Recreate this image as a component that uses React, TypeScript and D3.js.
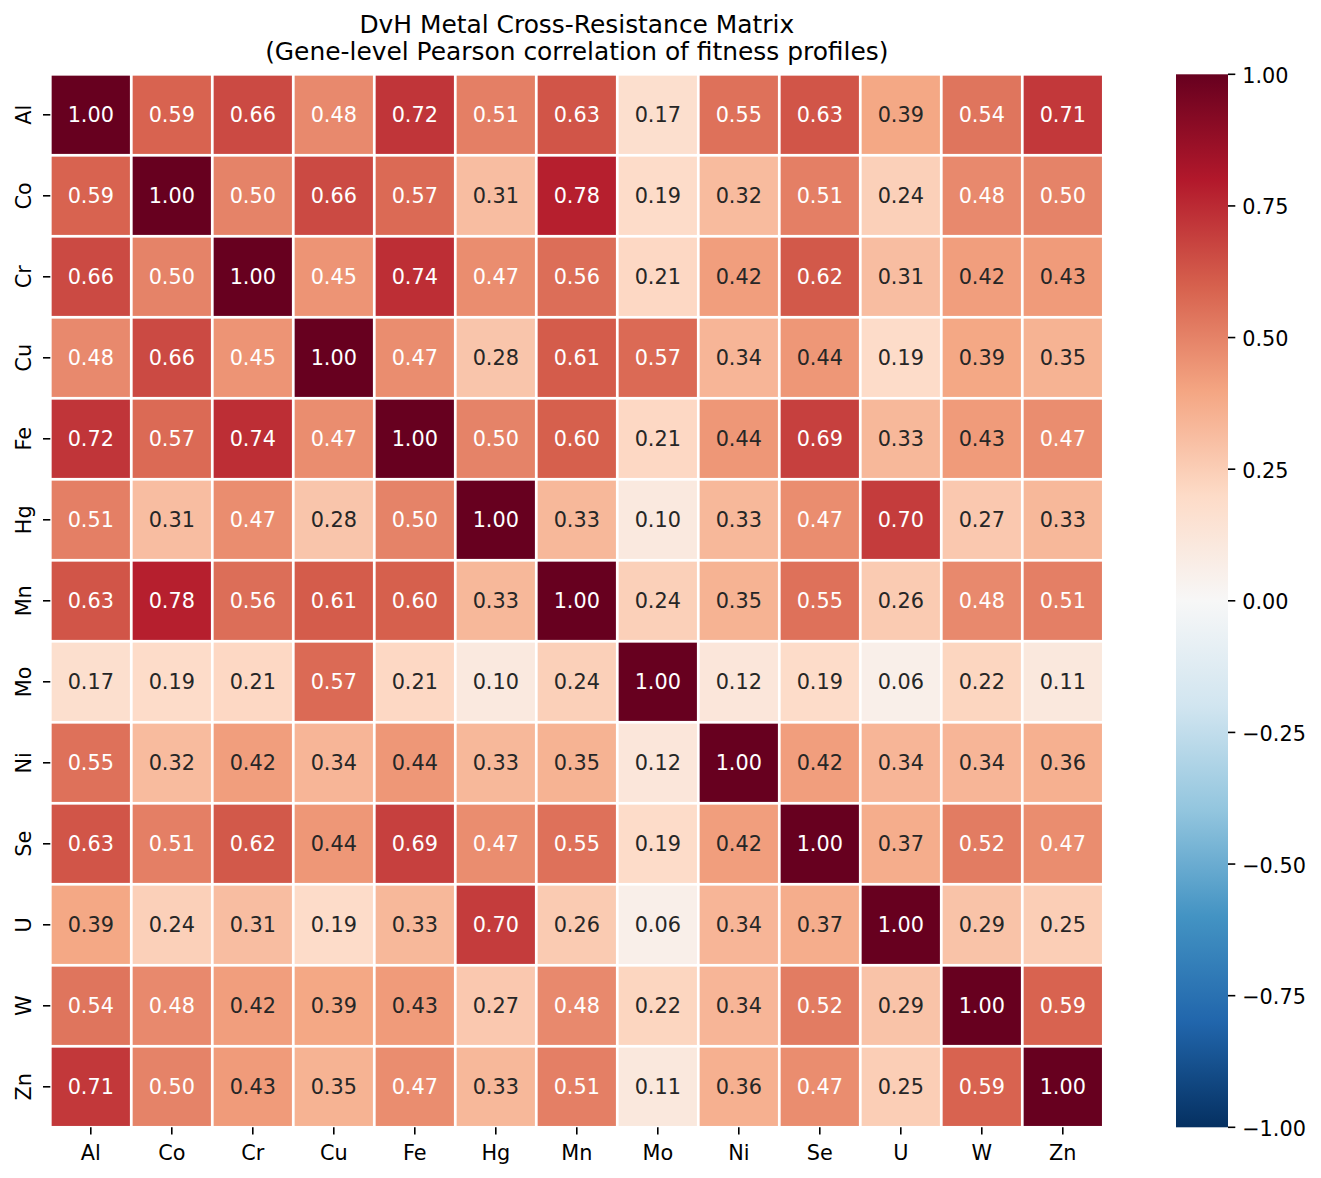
import { useEffect, useRef } from 'react';
import * as d3 from 'd3';

// metals (rows == columns)
const metals = ['Al', 'Co', 'Cr', 'Cu', 'Fe', 'Hg', 'Mn', 'Mo', 'Ni', 'Se', 'U', 'W', 'Zn'];

// correlation matrix, one row per metal
const rowAl = [1.0, 0.59, 0.66, 0.48, 0.72, 0.51, 0.63, 0.17, 0.55, 0.63, 0.39, 0.54, 0.71];
const rowCo = [0.59, 1.0, 0.5, 0.66, 0.57, 0.31, 0.78, 0.19, 0.32, 0.51, 0.24, 0.48, 0.5];
const rowCr = [0.66, 0.5, 1.0, 0.45, 0.74, 0.47, 0.56, 0.21, 0.42, 0.62, 0.31, 0.42, 0.43];
const rowCu = [0.48, 0.66, 0.45, 1.0, 0.47, 0.28, 0.61, 0.57, 0.34, 0.44, 0.19, 0.39, 0.35];
const rowFe = [0.72, 0.57, 0.74, 0.47, 1.0, 0.5, 0.6, 0.21, 0.44, 0.69, 0.33, 0.43, 0.47];
const rowHg = [0.51, 0.31, 0.47, 0.28, 0.5, 1.0, 0.33, 0.1, 0.33, 0.47, 0.7, 0.27, 0.33];
const rowMn = [0.63, 0.78, 0.56, 0.61, 0.6, 0.33, 1.0, 0.24, 0.35, 0.55, 0.26, 0.48, 0.51];
const rowMo = [0.17, 0.19, 0.21, 0.57, 0.21, 0.1, 0.24, 1.0, 0.12, 0.19, 0.06, 0.22, 0.11];
const rowNi = [0.55, 0.32, 0.42, 0.34, 0.44, 0.33, 0.35, 0.12, 1.0, 0.42, 0.34, 0.34, 0.36];
const rowSe = [0.63, 0.51, 0.62, 0.44, 0.69, 0.47, 0.55, 0.19, 0.42, 1.0, 0.37, 0.52, 0.47];
const rowU = [0.39, 0.24, 0.31, 0.19, 0.33, 0.7, 0.26, 0.06, 0.34, 0.37, 1.0, 0.29, 0.25];
const rowW = [0.54, 0.48, 0.42, 0.39, 0.43, 0.27, 0.48, 0.22, 0.34, 0.52, 0.29, 1.0, 0.59];
const rowZn = [0.71, 0.5, 0.43, 0.35, 0.47, 0.33, 0.51, 0.11, 0.36, 0.47, 0.25, 0.59, 1.0];
const matrix = [rowAl, rowCo, rowCr, rowCu, rowFe, rowHg, rowMn, rowMo, rowNi, rowSe, rowU, rowW, rowZn];

const colorbarTicks = [-1, -0.75, -0.5, -0.25, 0, 0.25, 0.5, 0.75, 1];

// matplotlib RdBu_r anchors (low -> high)
const rdbuR = ['#053061', '#2166ac', '#4393c3', '#92c5de', '#d1e5f0', '#f7f7f7',
  '#fddbc7', '#f4a582', '#d6604d', '#b2182b', '#67001f'];

const FONT = 'DejaVu Sans, sans-serif';
const FS = 20.8;

// seaborn picks annotation colour by relative luminance
function luminance(c: string) {
  const rgb = d3.rgb(c);
  const lin = [rgb.r, rgb.g, rgb.b].map((v) => {
    const s = v / 255;
    return s <= 0.03928 ? s / 12.92 : Math.pow((s + 0.055) / 1.055, 2.4);
  });
  return 0.2126 * lin[0] + 0.7152 * lin[1] + 0.0722 * lin[2];
}

export default function App() {
  const svgRef = useRef<SVGSVGElement | null>(null);

  useEffect(() => {
    if (!svgRef.current) return;
    const W = 1321, H = 1178;
    const hm = { x0: 50.3, y0: 74.3, x1: 1103.3, y1: 1127.3 };
    const cb = { x0: 1176, x1: 1228 };
    const tickLen = 7.3;

    const svg = d3.select(svgRef.current);
    svg.selectAll('*').remove();
    svg.attr('width', W).attr('height', H);

    const color = d3.scaleLinear<string>()
      .domain(d3.range(11).map((i) => -1 + i * 0.2))
      .range(rdbuR)
      .interpolate(d3.interpolateRgb)
      .clamp(true);

    const x = d3.scaleBand().domain(metals).range([hm.x0, hm.x1]);
    const y = d3.scaleBand().domain(metals).range([hm.y0, hm.y1]);

    const cells = matrix.flatMap((row, i) => row.map((v, j) => ({ r: metals[i], c: metals[j], v })));

    // cells
    svg.append('g')
      .selectAll('rect')
      .data(cells)
      .join('rect')
      .attr('x', (d) => x(d.c)!)
      .attr('y', (d) => y(d.r)!)
      .attr('width', x.bandwidth())
      .attr('height', y.bandwidth())
      .attr('fill', (d) => color(d.v))
      .attr('stroke', '#fff')
      .attr('stroke-width', 2.7);

    // annotations
    svg.append('g')
      .selectAll('text')
      .data(cells)
      .join('text')
      .attr('x', (d) => x(d.c)! + x.bandwidth() / 2)
      .attr('y', (d) => y(d.r)! + y.bandwidth() / 2 + 7.6)
      .attr('text-anchor', 'middle')
      .attr('font-family', FONT)
      .attr('font-size', FS)
      .attr('fill', (d) => (luminance(color(d.v)) > 0.408 ? '#262626' : '#ffffff'))
      .text((d) => d.v.toFixed(2));

    // x axis ticks
    const xt = svg.append('g');
    metals.forEach((m) => {
      const cx = x(m)! + x.bandwidth() / 2;
      xt.append('line').attr('x1', cx).attr('x2', cx)
        .attr('y1', hm.y1).attr('y2', hm.y1 + tickLen)
        .attr('stroke', '#000').attr('stroke-width', 1.6);
      xt.append('text').attr('x', cx).attr('y', 1159.5)
        .attr('text-anchor', 'middle')
        .attr('font-family', FONT).attr('font-size', FS)
        .text(m);
    });

    // y axis ticks (rotated labels)
    const yt = svg.append('g');
    metals.forEach((m) => {
      const cy = y(m)! + y.bandwidth() / 2;
      yt.append('line').attr('x1', hm.x0 - tickLen).attr('x2', hm.x0)
        .attr('y1', cy).attr('y2', cy)
        .attr('stroke', '#000').attr('stroke-width', 1.6);
      yt.append('text')
        .attr('transform', `translate(30.5,${cy}) rotate(-90)`)
        .attr('text-anchor', 'middle')
        .attr('font-family', FONT).attr('font-size', FS)
        .text(m);
    });

    // colorbar
    const cbScale = d3.scaleLinear().domain([-1, 1]).range([hm.y1, hm.y0]);
    const grad = svg.append('defs').append('linearGradient')
      .attr('id', 'cbgrad')
      .attr('x1', 0).attr('x2', 0).attr('y1', 1).attr('y2', 0);
    rdbuR.forEach((c, i) => {
      grad.append('stop').attr('offset', `${i * 10}%`).attr('stop-color', c);
    });
    svg.append('rect')
      .attr('x', cb.x0).attr('y', hm.y0)
      .attr('width', cb.x1 - cb.x0).attr('height', hm.y1 - hm.y0)
      .attr('fill', 'url(#cbgrad)');

    const cbAxis = svg.append('g');
    colorbarTicks.forEach((t) => {
      const ty = cbScale(t);
      cbAxis.append('line').attr('x1', cb.x1).attr('x2', cb.x1 + tickLen)
        .attr('y1', ty).attr('y2', ty)
        .attr('stroke', '#000').attr('stroke-width', 1.6);
      cbAxis.append('text').attr('x', cb.x1 + tickLen + 6.9).attr('y', ty + 8.5)
        .attr('font-family', FONT).attr('font-size', FS)
        .text(t.toFixed(2).replace('-', '\u2212'));
    });

    // title
    const tx = (hm.x0 + hm.x1) / 2;
    const title = svg.append('g')
      .attr('font-family', FONT).attr('font-size', 24.9).attr('text-anchor', 'middle');
    title.append('text').attr('x', tx).attr('y', 32.5).text('DvH Metal Cross-Resistance Matrix');
    title.append('text').attr('x', tx).attr('y', 59.5)
      .text('(Gene-level Pearson correlation of fitness profiles)');
  }, []);

  return (
    <svg ref={svgRef} style={{ position: 'absolute', left: 0, top: 0, background: '#fff' }} />
  );
}
